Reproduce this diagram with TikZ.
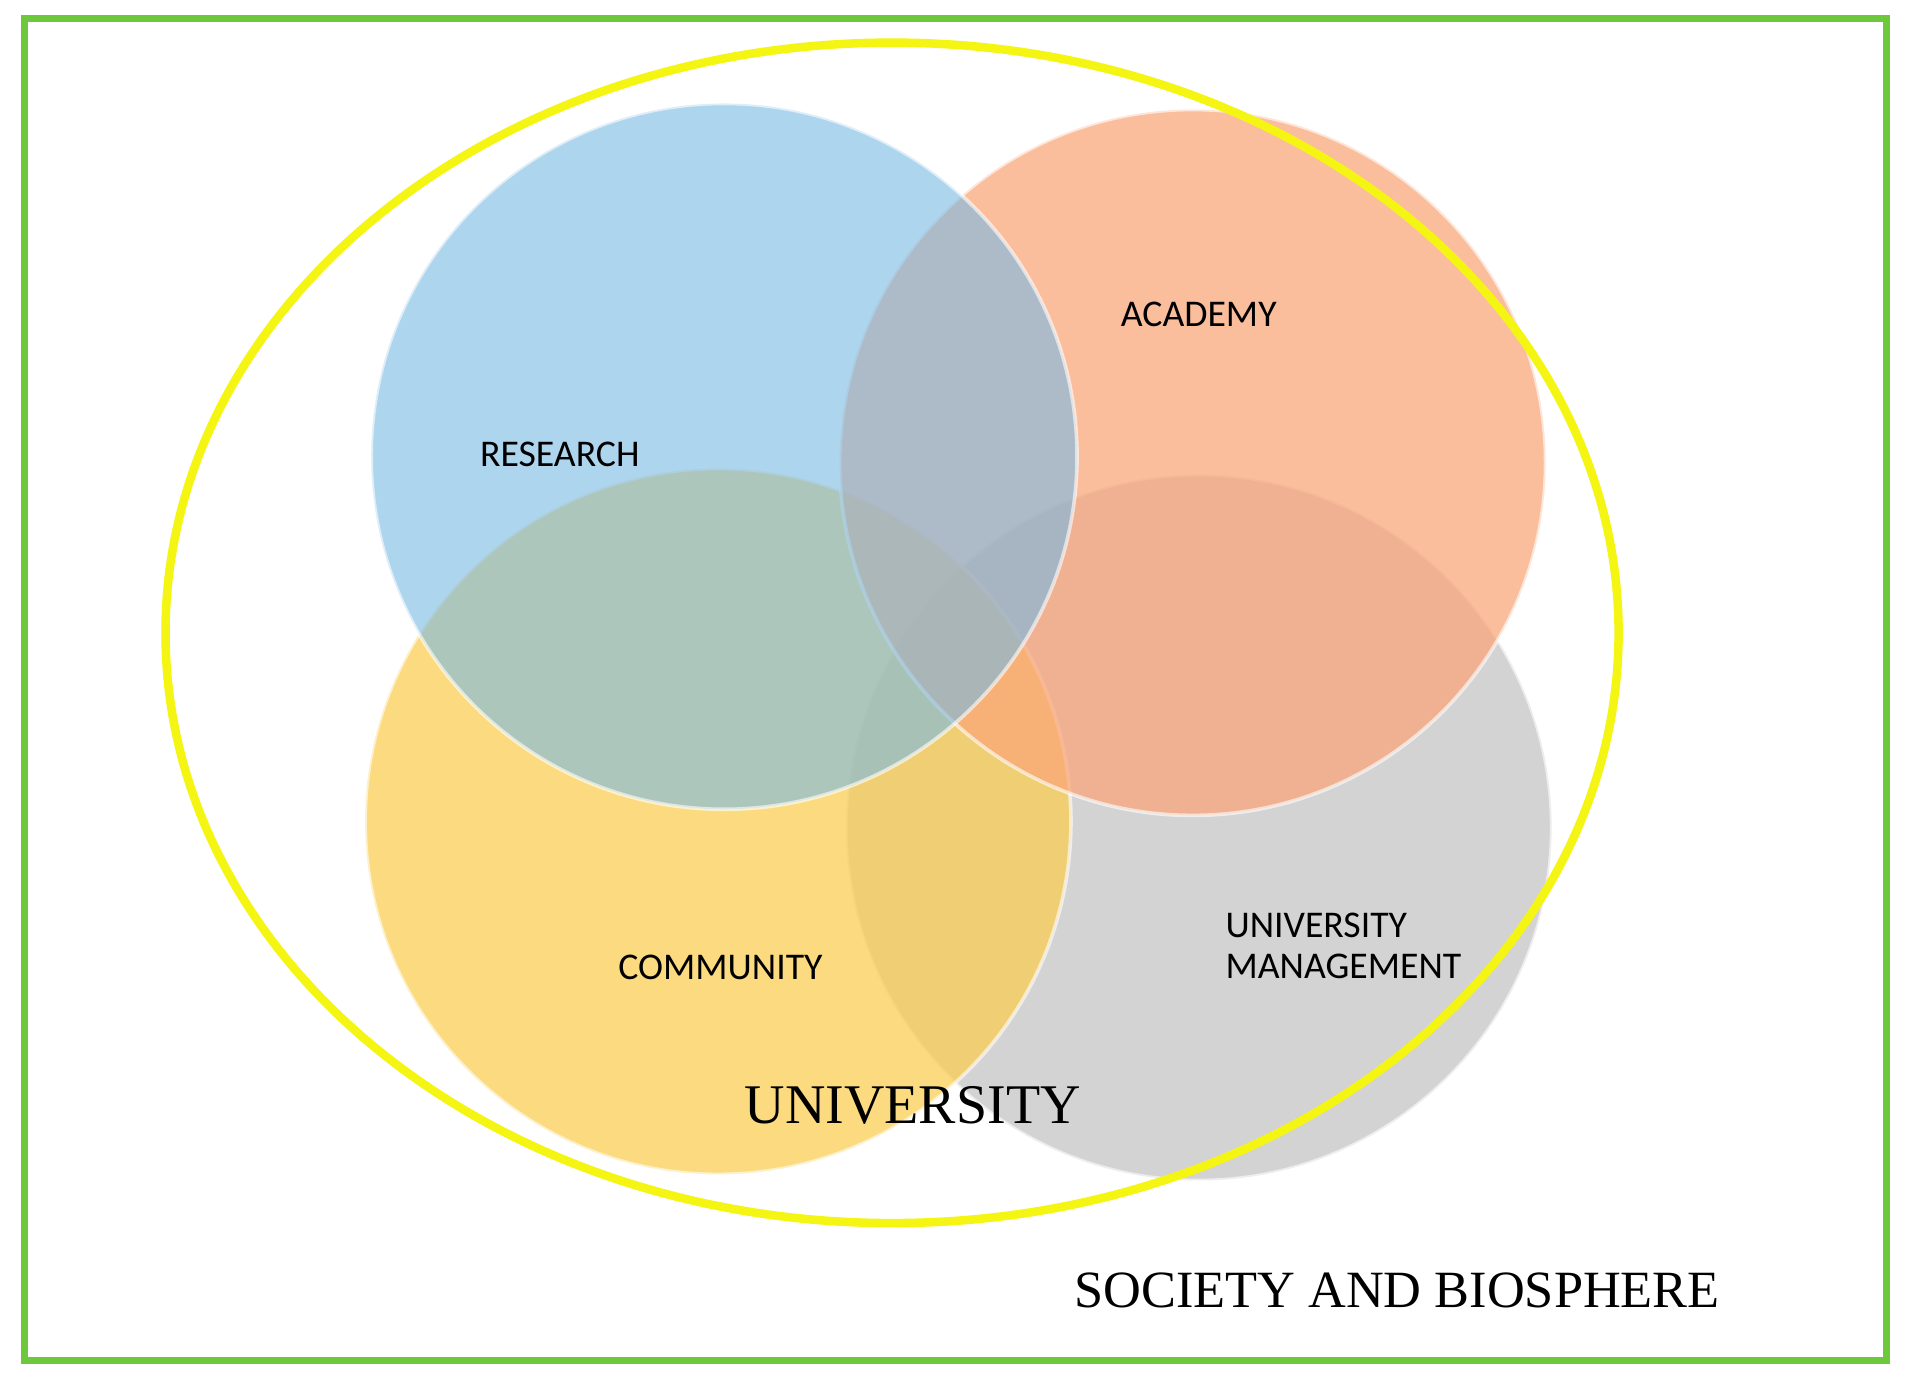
\documentclass[tikz,border=0pt]{standalone}
\usepackage{fontspec}
\setmainfont{Liberation Serif}
\newfontfamily\labelfont{Carlito}
\usetikzlibrary{positioning}
\definecolor{researchblue}{RGB}{120,185,228}
\definecolor{academyorange}{RGB}{250,165,120}
\definecolor{communityyellow}{RGB}{252,206,80}
\definecolor{managementgray}{RGB}{195,195,195}
\definecolor{framegreen}{RGB}{110,200,60}
\definecolor{ringyellow}{RGB}{245,245,20}
\tikzset{
  area/.style={circle,minimum size=290pt,inner sep=0,fill opacity=0.72,draw=white,draw opacity=0.6,line width=1.5pt},
  tag/.style={font=\labelfont\fontsize{15.5}{17}\selectfont,align=left},
  title/.style={font=\fontsize{23}{25}\selectfont}
}
\begin{document}
\begin{tikzpicture}[x=0.5pt,y=-0.5pt]
\useasboundingbox (0,0) rectangle (1567,1137);
\fill[white] (0,0) rectangle (1567,1137);

% the four areas
\node [area,fill=managementgray] (management) at (985,680) {};
\node [area,fill=communityyellow] (community) at (590,675) {};
\node [area,fill=academyorange] (academy) at (980,380) {};
\node [area,fill=researchblue,fill opacity=0.6] (research) at (595,375) {};

% university ring and frame
\draw [ringyellow,line width=3.5pt] (733,520) ellipse [x radius=597,y radius=485];
\draw [framegreen,line width=3pt] (20,15) rectangle (1550,1118);

\node [tag] (research-label) at (460,373) {RESEARCH};
\node [tag] (academy-label) at (985,258) {ACADEMY};
\node [tag] (community-label) at (592,795) {COMMUNITY};
\node [tag,anchor=west] (management-label) at (1000,777) {UNIVERSITY\\MANAGEMENT};
\node [title] (university-label) at (750,908) {UNIVERSITY};
\node [font=\fontsize{21.5}{23}\selectfont] (society-label) at (1148,1060) {SOCIETY AND BIOSPHERE};
\end{tikzpicture}
\end{document}
